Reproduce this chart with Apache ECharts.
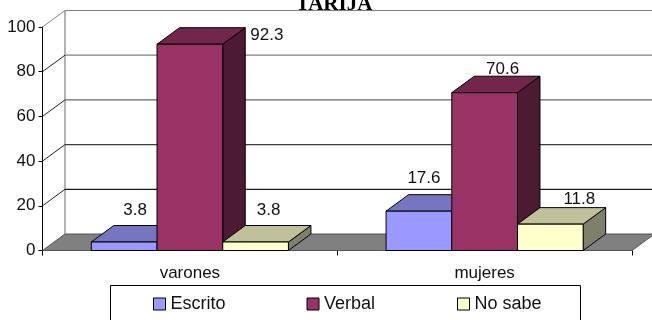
<!DOCTYPE html>
<html>
<head>
<meta charset="utf-8">
<style>html,body{margin:0;padding:0;background:#fff}#c{width:652px;height:320px}</style>
<script src="https://cdn.jsdelivr.net/npm/echarts@6/dist/echarts.min.js"></script>
</head>
<body>
<div id="c"></div>
<script>
const categories = ['varones', 'mujeres'];
const escrito = [3.8, 17.6];
const verbal = [92.3, 70.6];
const noSabe = [3.8, 11.8];
const yTicks = [0, 20, 40, 60, 80, 100];
const gridColors = {20: '#1a1a1a', 40: '#3c3c3c', 60: '#666666', 80: '#808080', 100: '#808080'};

const DX = 22.5, DY = -16.5, BW = 65.7;
const FONT = '"Liberation Sans", Arial, sans-serif';

function bar3d(front, top, side, seriesIndex) {
  return function (params, api) {
    const idx = api.value(0);
    const base = api.coord([idx, 0]);
    const tip = api.coord([idx, api.value(1)]);
    const x = base[0] + (seriesIndex - 1) * BW - BW / 2;
    const y0 = base[1], y1 = tip[1], w = BW;
    const stroke = {stroke: '#000', lineWidth: 1, lineJoin: 'round'};
    return {
      type: 'group',
      children: [
        {type: 'polygon', shape: {points: [[x + w, y0], [x + w + DX, y0 + DY], [x + w + DX, y1 + DY], [x + w, y1]]}, style: Object.assign({fill: side}, stroke)},
        {type: 'polygon', shape: {points: [[x, y1], [x + DX, y1 + DY], [x + w + DX, y1 + DY], [x + w, y1]]}, style: Object.assign({fill: top}, stroke)},
        {type: 'rect', shape: {x: x, y: y1, width: w, height: y0 - y1}, style: Object.assign({fill: front}, stroke)}
      ]
    };
  };
}

function wallItem(params, api) {
  const v = api.value(0);
  const rect = params.coordSys;
  const p = api.coord([0, v]);
  const xL = rect.x, xR = rect.x + rect.width;
  const kids = [];
  if (v === 0) {
    kids.push({type: 'polygon', shape: {points: [[xL, p[1]], [xL + DX, p[1] + DY], [xR + DX, p[1] + DY], [xR, p[1]]]}, style: {fill: '#808080', stroke: '#555', lineWidth: 1}});
    const topY = api.coord([0, 100])[1];
    kids.push({type: 'line', shape: {x1: xL + DX, y1: p[1] + DY, x2: xL + DX, y2: topY + DY}, style: {stroke: '#808080', lineWidth: 1.2}});
  } else {
    const c = gridColors[v];
    kids.push({type: 'line', shape: {x1: xL + DX, y1: p[1] + DY, x2: xR + DX, y2: p[1] + DY}, style: {stroke: c, lineWidth: 1.2}});
    kids.push({type: 'line', shape: {x1: xL, y1: p[1], x2: xL + DX, y2: p[1] + DY}, style: {stroke: v === 100 ? '#808080' : '#222', lineWidth: 1}});
  }
  return {type: 'group', children: kids};
}

const labelStyle = {fontFamily: FONT, fontSize: 17, color: '#111'};
function labelSeries(name, values, seriesIndex, offs) {
  return {
    type: 'custom', name: name + ' label', silent: true, z: 6, clip: false,
    data: values.map((v, i) => [i, v]),
    encode: {x: 0, y: 1},
    renderItem: function (params, api) {
      const idx = api.value(0), v = api.value(1);
      const tip = api.coord([idx, v]);
      const o = offs[idx];
      return {type: 'text', style: {x: tip[0] + (seriesIndex - 1) * BW + o[0], y: tip[1] + o[1], text: v.toFixed(1), align: 'center', verticalAlign: 'middle', font: '17px ' + FONT, fill: '#111'}};
    }
  };
}

function barSeries(name, values, front, top, side, i) {
  return {
    type: 'custom', name: name, z: 3, clip: false,
    itemStyle: {color: front, borderColor: '#000', borderWidth: 1},
    data: values.map((v, k) => [k, v]),
    encode: {x: 0, y: 1},
    renderItem: bar3d(front, top, side, i)
  };
}

function legendFor(name, left) {
  return {
    left: left, top: 295, padding: 0, itemWidth: 12, itemHeight: 12,
    icon: 'rect', data: [name],
    textStyle: {fontFamily: FONT, fontSize: 18, color: '#111'},
    itemStyle: {borderColor: '#000', borderWidth: 1}
  };
}

const chart = echarts.init(document.getElementById('c'), null, {renderer: 'canvas'});
chart.setOption({
  animation: false,
  backgroundColor: '#fff',
  title: {
    text: 'TARIJA', left: 329, textAlign: 'center', top: -11,
    textStyle: {fontFamily: '"Liberation Serif", "Times New Roman", serif', fontWeight: 'bold', fontSize: 21, color: '#000'}
  },
  graphic: [{
    type: 'rect', z: 0, silent: true,
    shape: {x: 110.5, y: 285.5, width: 470, height: 40},
    style: {fill: '#fff', stroke: '#000', lineWidth: 1}
  }],
  legend: [legendFor('Escrito', 153), legendFor('Verbal', 306.5), legendFor('No sabe', 457)],
  grid: {left: 42.5, right: 20, top: 27, height: 223.5, containLabel: false},
  xAxis: {
    type: 'category', data: categories, boundaryGap: true,
    axisLine: {lineStyle: {color: '#000', width: 1}},
    axisTick: {show: true, length: 5, lineStyle: {color: '#000'}},
    axisLabel: Object.assign({margin: 14}, labelStyle),
    splitLine: {show: false}
  },
  yAxis: {
    type: 'value', min: 0, max: 100, interval: 20,
    axisLine: {show: true, lineStyle: {color: '#000', width: 1}},
    axisTick: {show: true, length: 4, lineStyle: {color: '#000'}},
    axisLabel: Object.assign({margin: 7}, labelStyle),
    splitLine: {show: false}
  },
  series: [
    {type: 'custom', name: 'walls', silent: true, z: 1, clip: false, data: yTicks.map(t => [t]), encode: {y: 0}, renderItem: wallItem},
    barSeries('Escrito', escrito, '#9999ff', '#7575c0', '#5c5c99', 0),
    barSeries('Verbal', verbal, '#993366', '#72264c', '#4d1a33', 1),
    barSeries('No sabe', noSabe, '#ffffcc', '#c0c09a', '#80806a', 2),
    labelSeries('Escrito', escrito, 0, [[11, -32], [5, -33]]),
    labelSeries('Verbal', verbal, 1, [[77, -9], [18, -23]]),
    labelSeries('No sabe', noSabe, 2, [[13, -32], [29, -25]])
  ]
});
</script>
</body>
</html>
